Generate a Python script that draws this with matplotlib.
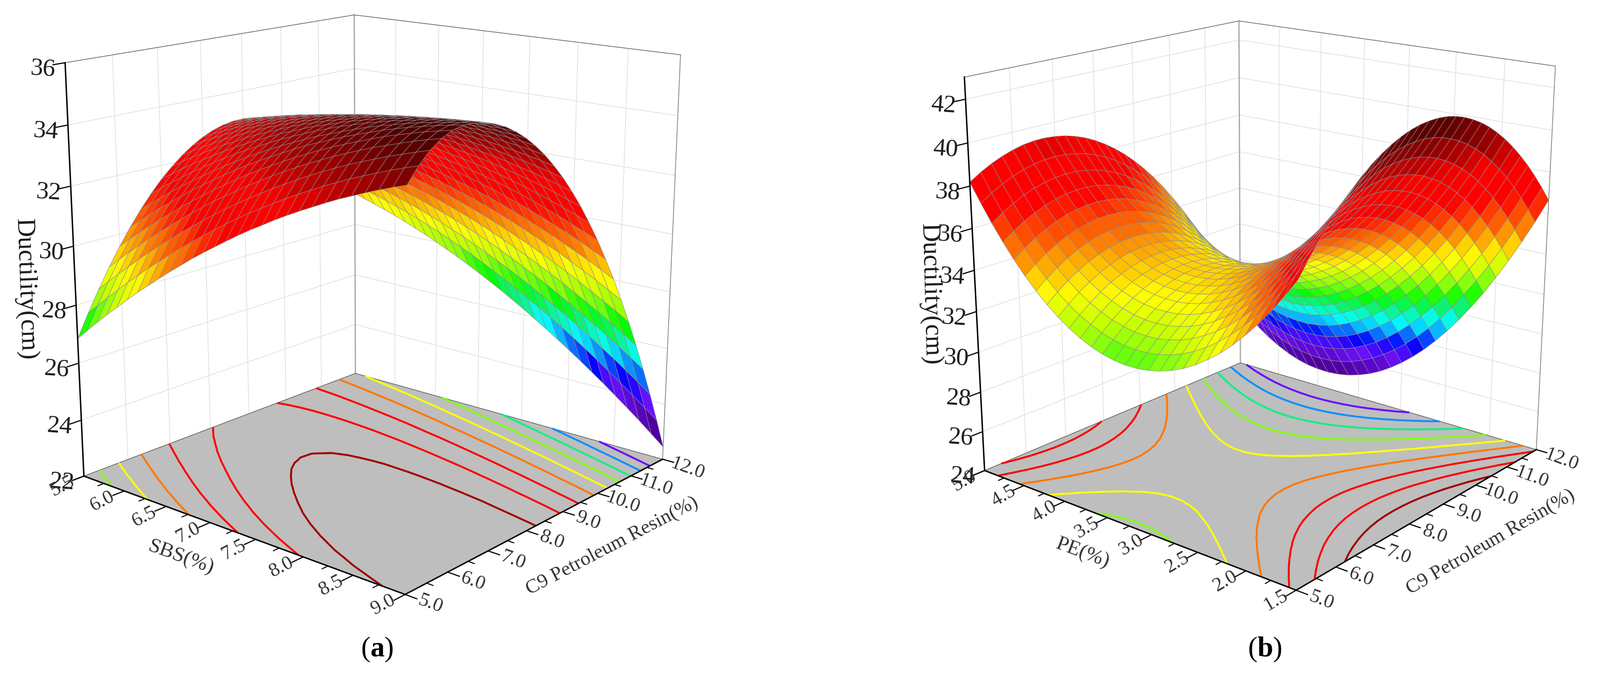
import numpy as np
import matplotlib
matplotlib.use('Agg')
import matplotlib.pyplot as plt
from matplotlib.colors import LinearSegmentedColormap
from mpl_toolkits.mplot3d import proj3d

W, H = 3929, 1665
plt.rcParams['font.family'] = ['Liberation Serif', 'DejaVu Sans']
plt.rcParams['mathtext.fontset'] = 'custom'
plt.rcParams['mathtext.rm'] = 'Liberation Serif'
plt.rcParams['mathtext.bf'] = 'Liberation Serif:bold'

c9 = np.arange(5, 12.01, .25)
sbs = np.arange(5.5, 9.01, .125)
pe = np.arange(1.5, 5.01, .125)

# ductility x100, one row per SBS value, one column per C9 value
ductility_a = [
    [2685, 2761, 2832, 2898, 2959, 3015, 3066, 3112, 3153, 3188, 3219, 3245, 3266, 3282, 3293, 3299, 3300, 3296, 3287, 3272, 3253, 3229, 3200, 3166, 3127, 3083, 3034, 2980, 2921],
    [2723, 2798, 2868, 2932, 2992, 3046, 3095, 3139, 3178, 3212, 3241, 3265, 3284, 3298, 3307, 3311, 3310, 3304, 3293, 3277, 3256, 3230, 3199, 3163, 3122, 3076, 3025, 2969, 2908],
    [2761, 2834, 2903, 2966, 3023, 3076, 3123, 3165, 3202, 3234, 3261, 3284, 3301, 3313, 3320, 3322, 3319, 3312, 3299, 3281, 3258, 3230, 3197, 3160, 3117, 3069, 3016, 2958, 2895],
    [2797, 2869, 2936, 2998, 3054, 3105, 3150, 3190, 3226, 3256, 3281, 3302, 3317, 3327, 3332, 3333, 3328, 3318, 3304, 3284, 3259, 3229, 3195, 3155, 3110, 3061, 3006, 2946, 2881],
    [2832, 2904, 2970, 3030, 3084, 3133, 3176, 3215, 3248, 3277, 3300, 3318, 3332, 3340, 3344, 3342, 3336, 3324, 3307, 3286, 3259, 3228, 3191, 3149, 3103, 3051, 2995, 2933, 2867],
    [2867, 2937, 3002, 3060, 3113, 3160, 3202, 3238, 3270, 3297, 3318, 3335, 3346, 3353, 3354, 3351, 3342, 3329, 3310, 3287, 3258, 3225, 3187, 3143, 3095, 3041, 2983, 2919, 2851],
    [2901, 2970, 3033, 3090, 3141, 3187, 3226, 3261, 3291, 3315, 3335, 3350, 3359, 3364, 3364, 3358, 3348, 3333, 3313, 3287, 3257, 3222, 3181, 3136, 3086, 3030, 2970, 2905, 2834],
    [2933, 3001, 3063, 3119, 3169, 3212, 3250, 3283, 3311, 3334, 3351, 3364, 3372, 3375, 3373, 3365, 3353, 3336, 3314, 3287, 3254, 3217, 3175, 3128, 3076, 3018, 2956, 2889, 2817],
    [2965, 3032, 3093, 3147, 3195, 3237, 3273, 3304, 3330, 3351, 3367, 3378, 3384, 3384, 3380, 3371, 3357, 3338, 3314, 3285, 3251, 3212, 3168, 3119, 3065, 3006, 2942, 2872, 2798],
    [2996, 3062, 3121, 3174, 3221, 3261, 3295, 3324, 3348, 3367, 3381, 3390, 3394, 3393, 3387, 3376, 3360, 3339, 3314, 3283, 3247, 3206, 3160, 3109, 3053, 2992, 2926, 2855, 2779],
    [3026, 3091, 3149, 3201, 3245, 3284, 3316, 3343, 3365, 3382, 3395, 3402, 3404, 3401, 3393, 3381, 3363, 3340, 3312, 3279, 3242, 3199, 3151, 3098, 3040, 2977, 2910, 2837, 2759],
    [3056, 3119, 3176, 3226, 3269, 3306, 3336, 3361, 3382, 3397, 3407, 3413, 3413, 3408, 3399, 3384, 3364, 3340, 3310, 3275, 3235, 3191, 3141, 3086, 3027, 2962, 2892, 2818, 2738],
    [3084, 3146, 3202, 3250, 3292, 3327, 3355, 3379, 3397, 3411, 3419, 3423, 3421, 3414, 3403, 3386, 3365, 3338, 3307, 3270, 3229, 3182, 3130, 3074, 3012, 2946, 2874, 2798, 2716],
    [3111, 3173, 3227, 3274, 3314, 3347, 3374, 3395, 3412, 3423, 3430, 3432, 3428, 3420, 3406, 3388, 3364, 3336, 3303, 3264, 3221, 3172, 3119, 3060, 2997, 2929, 2855, 2777, 2693],
    [3138, 3198, 3251, 3297, 3335, 3366, 3391, 3411, 3426, 3435, 3440, 3440, 3434, 3424, 3409, 3389, 3363, 3333, 3298, 3257, 3212, 3162, 3106, 3046, 2981, 2911, 2835, 2755, 2670],
    [3164, 3223, 3274, 3319, 3355, 3385, 3408, 3426, 3438, 3446, 3449, 3447, 3440, 3428, 3410, 3388, 3361, 3329, 3292, 3250, 3202, 3150, 3093, 3031, 2964, 2892, 2814, 2732, 2645],
    [3189, 3246, 3297, 3340, 3375, 3403, 3424, 3440, 3450, 3456, 3457, 3453, 3444, 3430, 3411, 3387, 3358, 3324, 3285, 3241, 3192, 3138, 3079, 3015, 2946, 2872, 2793, 2709, 2620],
    [3212, 3269, 3318, 3360, 3393, 3419, 3438, 3453, 3462, 3466, 3465, 3459, 3448, 3432, 3411, 3385, 3354, 3318, 3277, 3232, 3181, 3125, 3064, 2998, 2927, 2851, 2770, 2684, 2593],
    [3236, 3291, 3339, 3379, 3411, 3435, 3452, 3465, 3472, 3474, 3471, 3463, 3451, 3433, 3410, 3382, 3350, 3312, 3269, 3221, 3168, 3111, 3048, 2980, 2907, 2829, 2747, 2659, 2566],
    [3258, 3312, 3359, 3397, 3428, 3450, 3465, 3476, 3481, 3481, 3477, 3467, 3453, 3433, 3408, 3379, 3344, 3304, 3260, 3210, 3155, 3096, 3031, 2961, 2887, 2807, 2722, 2633, 2538],
    [3279, 3332, 3378, 3415, 3443, 3464, 3478, 3486, 3490, 3488, 3482, 3470, 3453, 3432, 3405, 3374, 3337, 3296, 3249, 3198, 3141, 3080, 3013, 2942, 2865, 2784, 2697, 2606, 2509],
    [3299, 3352, 3396, 3431, 3458, 3477, 3489, 3496, 3497, 3494, 3485, 3472, 3454, 3430, 3402, 3368, 3330, 3287, 3238, 3185, 3126, 3063, 2995, 2921, 2843, 2759, 2671, 2578, 2479],
    [3319, 3370, 3413, 3447, 3472, 3490, 3499, 3504, 3504, 3499, 3488, 3473, 3453, 3427, 3397, 3362, 3322, 3276, 3226, 3171, 3111, 3045, 2975, 2900, 2820, 2734, 2644, 2549, 2448],
    [3338, 3388, 3429, 3462, 3486, 3501, 3509, 3512, 3510, 3503, 3490, 3473, 3451, 3424, 3392, 3355, 3313, 3265, 3213, 3156, 3094, 3027, 2955, 2878, 2795, 2708, 2616, 2519, 2417],
    [3355, 3404, 3444, 3475, 3498, 3512, 3518, 3519, 3515, 3506, 3492, 3473, 3449, 3420, 3385, 3346, 3302, 3253, 3199, 3140, 3076, 3007, 2933, 2854, 2770, 2681, 2587, 2488, 2384],
    [3372, 3420, 3459, 3488, 3509, 3521, 3525, 3524, 3519, 3508, 3492, 3471, 3445, 3414, 3378, 3337, 3292, 3241, 3185, 3124, 3058, 2987, 2911, 2830, 2744, 2654, 2558, 2457, 2351],
    [3388, 3435, 3472, 3501, 3520, 3530, 3532, 3530, 3522, 3509, 3491, 3468, 3441, 3408, 3370, 3327, 3280, 3227, 3169, 3106, 3039, 2966, 2888, 2805, 2718, 2625, 2527, 2424, 2317],
    [3403, 3449, 3485, 3512, 3529, 3538, 3538, 3534, 3524, 3509, 3490, 3465, 3436, 3401, 3361, 3317, 3267, 3212, 3153, 3088, 3018, 2944, 2864, 2780, 2690, 2595, 2496, 2391, 2281],
    [3417, 3462, 3497, 3522, 3538, 3545, 3543, 3537, 3525, 3509, 3487, 3461, 3429, 3393, 3351, 3305, 3253, 3197, 3135, 3069, 2997, 2921, 2839, 2753, 2661, 2565, 2463, 2357, 2245],
]

# ductility x100, one row per PE value, one column per C9 value
ductility_b = [
    [3745, 3814, 3877, 3935, 3988, 4035, 4077, 4114, 4145, 4171, 4192, 4208, 4218, 4223, 4223, 4218, 4207, 4191, 4169, 4143, 4111, 4073, 4031, 3983, 3930, 3872, 3808, 3739, 3665],
    [3663, 3730, 3792, 3848, 3900, 3946, 3987, 4022, 4052, 4077, 4097, 4111, 4120, 4124, 4123, 4116, 4104, 4086, 4064, 4036, 4003, 3964, 3920, 3871, 3817, 3757, 3692, 3622, 3546],
    [3586, 3652, 3713, 3768, 3818, 3863, 3903, 3937, 3966, 3989, 4008, 4021, 4029, 4031, 4028, 4020, 4007, 3988, 3964, 3935, 3901, 3861, 3816, 3765, 3710, 3649, 3582, 3511, 3434],
    [3516, 3581, 3640, 3694, 3743, 3787, 3825, 3858, 3886, 3908, 3925, 3937, 3943, 3945, 3940, 3931, 3916, 3897, 3871, 3841, 3805, 3764, 3718, 3666, 3609, 3547, 3479, 3406, 3328],
    [3453, 3516, 3574, 3627, 3674, 3717, 3754, 3785, 3812, 3833, 3849, 3859, 3864, 3864, 3859, 3848, 3832, 3811, 3785, 3753, 3716, 3673, 3626, 3573, 3515, 3451, 3382, 3308, 3229],
    [3395, 3457, 3514, 3566, 3612, 3653, 3689, 3719, 3744, 3764, 3778, 3788, 3792, 3790, 3784, 3772, 3754, 3732, 3704, 3671, 3633, 3589, 3540, 3486, 3426, 3362, 3292, 3216, 3135],
    [3344, 3405, 3461, 3511, 3556, 3596, 3630, 3659, 3683, 3701, 3715, 3722, 3725, 3723, 3715, 3701, 3683, 3659, 3630, 3596, 3556, 3511, 3461, 3405, 3345, 3279, 3207, 3131, 3049],
    [3300, 3359, 3413, 3462, 3506, 3544, 3577, 3605, 3628, 3645, 3657, 3664, 3665, 3661, 3652, 3637, 3618, 3593, 3562, 3527, 3486, 3439, 3388, 3331, 3269, 3202, 3129, 3051, 2968],
    [3261, 3319, 3372, 3420, 3462, 3500, 3531, 3558, 3579, 3595, 3606, 3611, 3611, 3606, 3596, 3580, 3559, 3532, 3501, 3464, 3422, 3374, 3321, 3263, 3200, 3131, 3057, 2978, 2894],
    [3229, 3286, 3338, 3384, 3425, 3461, 3492, 3517, 3537, 3551, 3561, 3565, 3564, 3557, 3546, 3528, 3506, 3479, 3446, 3407, 3364, 3315, 3261, 3202, 3137, 3067, 2992, 2911, 2826],
    [3203, 3259, 3309, 3354, 3394, 3429, 3458, 3482, 3501, 3514, 3522, 3525, 3523, 3515, 3502, 3483, 3460, 3431, 3397, 3357, 3313, 3262, 3207, 3146, 3081, 3009, 2933, 2851, 2764],
    [3184, 3238, 3287, 3331, 3370, 3403, 3431, 3454, 3471, 3483, 3490, 3492, 3488, 3479, 3464, 3445, 3420, 3390, 3354, 3313, 3267, 3216, 3159, 3098, 3030, 2958, 2880, 2797, 2709],
    [3171, 3224, 3272, 3314, 3351, 3383, 3410, 3431, 3448, 3458, 3464, 3464, 3459, 3449, 3433, 3412, 3386, 3355, 3318, 3276, 3229, 3176, 3118, 3055, 2986, 2913, 2834, 2749, 2660],
    [3164, 3216, 3262, 3303, 3339, 3370, 3396, 3416, 3431, 3440, 3444, 3443, 3437, 3425, 3408, 3386, 3359, 3326, 3288, 3245, 3196, 3142, 3083, 3019, 2949, 2874, 2793, 2708, 2617],
    [3163, 3214, 3259, 3299, 3334, 3363, 3387, 3406, 3420, 3428, 3431, 3429, 3421, 3408, 3390, 3367, 3338, 3304, 3264, 3220, 3170, 3115, 3054, 2989, 2918, 2841, 2760, 2673, 2580],
    [3169, 3218, 3262, 3301, 3334, 3363, 3385, 3403, 3415, 3422, 3424, 3420, 3411, 3397, 3378, 3353, 3323, 3288, 3247, 3201, 3150, 3094, 3032, 2965, 2893, 2815, 2732, 2644, 2550],
    [3181, 3229, 3272, 3309, 3341, 3368, 3390, 3406, 3417, 3423, 3423, 3418, 3408, 3393, 3372, 3346, 3315, 3278, 3236, 3189, 3137, 3079, 3016, 2947, 2874, 2795, 2711, 2621, 2527],
    [3199, 3246, 3288, 3324, 3355, 3380, 3401, 3416, 3425, 3430, 3429, 3423, 3411, 3394, 3372, 3345, 3313, 3275, 3232, 3183, 3129, 3070, 3006, 2936, 2862, 2781, 2696, 2605, 2509],
    [3224, 3270, 3310, 3345, 3374, 3399, 3418, 3431, 3440, 3443, 3441, 3433, 3421, 3403, 3379, 3351, 3317, 3278, 3233, 3183, 3128, 3068, 3003, 2932, 2855, 2774, 2687, 2595, 2498],
    [3255, 3299, 3338, 3372, 3400, 3423, 3441, 3453, 3460, 3462, 3459, 3450, 3436, 3417, 3392, 3362, 3327, 3287, 3241, 3190, 3134, 3072, 3005, 2933, 2856, 2773, 2685, 2592, 2493],
    [3293, 3335, 3373, 3405, 3432, 3454, 3471, 3482, 3488, 3488, 3483, 3473, 3458, 3438, 3412, 3381, 3344, 3302, 3255, 3203, 3146, 3083, 3015, 2941, 2862, 2778, 2689, 2594, 2495],
    [3336, 3378, 3414, 3445, 3471, 3491, 3506, 3516, 3521, 3520, 3514, 3503, 3486, 3465, 3437, 3405, 3367, 3324, 3276, 3222, 3164, 3099, 3030, 2955, 2875, 2790, 2699, 2603, 2502],
    [3386, 3426, 3461, 3491, 3516, 3535, 3549, 3557, 3561, 3559, 3551, 3539, 3521, 3498, 3469, 3436, 3397, 3352, 3303, 3248, 3188, 3122, 3052, 2976, 2894, 2808, 2716, 2619, 2516],
    [3442, 3481, 3515, 3544, 3567, 3585, 3597, 3605, 3607, 3603, 3595, 3581, 3562, 3537, 3508, 3473, 3433, 3387, 3336, 3280, 3219, 3152, 3080, 3003, 2920, 2832, 2739, 2641, 2537],
    [3505, 3543, 3575, 3602, 3624, 3641, 3652, 3658, 3659, 3654, 3645, 3630, 3609, 3583, 3552, 3516, 3475, 3428, 3376, 3318, 3256, 3188, 3114, 3036, 2952, 2863, 2768, 2669, 2564],
    [3574, 3610, 3642, 3667, 3688, 3703, 3713, 3718, 3718, 3712, 3701, 3684, 3663, 3636, 3603, 3566, 3523, 3475, 3421, 3363, 3299, 3230, 3155, 3075, 2990, 2900, 2804, 2703, 2597],
    [3649, 3684, 3714, 3739, 3758, 3772, 3781, 3784, 3783, 3775, 3763, 3745, 3722, 3694, 3661, 3622, 3578, 3528, 3474, 3414, 3348, 3278, 3202, 3121, 3034, 2943, 2846, 2743, 2636],
    [3731, 3765, 3793, 3816, 3835, 3847, 3855, 3857, 3854, 3845, 3832, 3813, 3789, 3759, 3724, 3684, 3639, 3588, 3532, 3471, 3404, 3332, 3255, 3173, 3085, 2992, 2894, 2790, 2682],
    [3818, 3851, 3878, 3900, 3917, 3929, 3935, 3936, 3931, 3922, 3907, 3887, 3861, 3830, 3794, 3753, 3706, 3654, 3597, 3534, 3466, 3393, 3315, 3231, 3142, 3048, 2948, 2844, 2733],
]

levels_a = [24.24, 25.45, 26.66, 27.87, 29.08, 30.29, 31.5, 32.71, 33.92]
levels_b = [27.0, 28.67, 30.33, 32.0, 33.67, 35.33, 37.0, 38.67, 40.33]
level_colors = ['#6a10ff', '#0a90ff', '#10f080', '#80ff10', '#ffff00', '#ff7800', '#ff0000', '#ff0000', '#a00000']

c9_ticks = [5, 6, 7, 8, 9, 10, 11, 12]
c9_minor = [5.5, 6.5, 7.5, 8.5, 9.5, 10.5, 11.5]
sbs_ticks = [5.5, 6, 6.5, 7, 7.5, 8, 8.5, 9]
sbs_minor = [5.75, 6.25, 6.75, 7.25, 7.75, 8.25, 8.75]
pe_ticks = [5, 4.5, 4, 3.5, 3, 2.5, 2, 1.5]
pe_minor = [4.75, 4.25, 3.75, 3.25, 2.75, 2.25, 1.75]
z_ticks_a = [22, 24, 26, 28, 30, 32, 34, 36]
z_ticks_b = [24, 26, 28, 30, 32, 34, 36, 38, 40, 42]

stops = [(-1, '#5000a0'), (0, '#6a10ff'), (.5, '#0000ff'), (1, '#0a90ff'), (1.5, '#00ffff'), (2, '#10f080'), (2.5, '#00ff00'),
         (3, '#80ff10'), (3.5, '#c8ff00'), (4, '#ffff00'), (4.5, '#ffc000'), (5, '#ff7800'), (5.5, '#ff4000'), (6, '#ff0000'),
         (7, '#ff0000'), (8, '#a00000'), (9, '#500000')]
cmap = LinearSegmentedColormap.from_list('bands', [((a+1)/10, b) for a, b in stops], N=70)

fig = plt.figure(figsize=(W/100, H/100), dpi=100)


def draw_panel(xgrid, zgrid, xlim, zlim, levels, view, xticks, xminor, zticks, xname, xname_at, c9name_at, rot, off):
    ax = fig.add_axes([0, 0, .4, .9], projection='3d', computed_zorder=False)
    ax.set_axis_off()
    ax.patch.set_alpha(0)
    ax.view_init(elev=view['elev'], azim=view['azim'])
    ax.set_proj_type('persp', focal_length=view['f'])
    ax.set_box_aspect((1.0, view['by'], view['bz']))
    vl = ax.viewLim
    s = view['s']
    side = s*(vl.x1-vl.x0)
    ax.set_position([(view['tx']+vl.x0*s)/W, (view['ty']+vl.y0*s)/H, side/W, side/H])

    x0, x1 = xlim
    y0, y1 = 5.0, 12.0
    z0, z1 = zlim
    sg = 1 if x1 > x0 else -1
    zgrid = np.array(zgrid)/100
    X, Y = np.meshgrid(xgrid, c9, indexing='ij')

    # walls
    grid = dict(color='#dcdcdc', lw=1.1, zorder=1)
    for t in c9_ticks[1:-1]:
        ax.plot([x0, x0], [t, t], [z0, z1], **grid)
    for t in xticks[1:-1]:
        ax.plot([t, t], [y1, y1], [z0, z1], **grid)
    for t in zticks:
        ax.plot([x0, x0], [y0, y1], [t, t], **grid)
        ax.plot([x0, x1], [y1, y1], [t, t], **grid)
    ax.plot([x0, x0], [y1, y1], [z0, z1], color='#a8a8a8', lw=2.2, zorder=1)
    ax.plot([x1, x1], [y1, y1], [z0, z1], color='#808080', lw=1.3, zorder=1)
    ax.plot([x0, x0], [y0, y1], [z1, z1], color='#707070', lw=1.3, zorder=1)
    ax.plot([x0, x1], [y1, y1], [z1, z1], color='#707070', lw=1.3, zorder=1)

    # floor and contours
    ax.plot_surface(np.array([[x0, x0], [x1, x1]]), np.array([[y0, y1], [y0, y1]]), np.full((2, 2), z0),
                    color='#bebebe', shade=False, linewidth=0, zorder=2)
    ax.plot([x0, x0], [y0, y1], [z0, z0], color='#606060', lw=1.2, zorder=3)
    ax.plot([x0, x1], [y1, y1], [z0, z0], color='#606060', lw=1.2, zorder=3)
    ax.contour(X, Y, zgrid, levels=levels, colors=level_colors, linewidths=3.4, zdir='z', offset=z0, zorder=3)

    # surface, one colour a facet
    zm = (zgrid[:-1, :-1]+zgrid[1:, :-1]+zgrid[:-1, 1:]+zgrid[1:, 1:])/4
    fc = cmap(np.clip(((zm-levels[0])/(levels[1]-levels[0])+1)/10, 0, 1))
    fc = np.pad(fc, ((0, 1), (0, 1), (0, 0)), mode='edge')
    ax.plot_surface(X, Y, zgrid, facecolors=fc, rstride=1, cstride=1, shade=False, edgecolor='#8e8e8e', linewidth=.75, zorder=4)

    # axes
    k = dict(color='black', zorder=5)
    ax.plot([x0, x0], [y0, y0], [z0, z1], lw=2.5, **k)
    ax.plot([x0, x1], [y0, y0], [z0, z0], lw=2.5, **k)
    ax.plot([x1, x1], [y0, y1], [z0, z0], lw=2.5, **k)
    for t in zticks:
        ax.plot([x0, x0], [y0, y0-.25], [t, t], lw=2, **k)
    for t in xminor:
        ax.plot([t, t], [y0, y0-.13], [z0, z0], lw=1.8, **k)
    for t in xticks:
        ax.plot([t, t], [y0, y0-.25], [z0, z0], lw=2, **k)
    for t in c9_minor:
        ax.plot([x1, x1+sg*.06], [t, t], [z0, z0], lw=1.8, **k)
    for t in c9_ticks:
        ax.plot([x1, x1+sg*.11], [t, t], [z0, z0], lw=2, **k)

    ax.set_xlim(x0, x1, view_margin=0)
    ax.set_ylim(y0, y1, view_margin=0)
    ax.set_zlim(z0, z1, view_margin=0)

    # Text3D ignores rotation, so the labels go on the figure at the projected place
    M = ax.get_proj()

    def label(x, y, z, txt, dx, dy, size, angle, color='#333333'):
        u, v, _ = proj3d.proj_transform(x, y, z, M)
        fig.text((view['tx']+s*u+dx)/W, (view['ty']+s*v-dy)/H, txt, fontsize=size, rotation=angle,
                 ha='center', va='center', color=color, rotation_mode='anchor')

    for t in zticks:
        label(x0, y0, t, str(t), -54, 15, 44, -4, '#1a1a1a')
    for t in xticks:
        label(t, y0, z0, '%.1f' % t, off[0], off[1], 35, rot[0])
    for t in c9_ticks:
        label(x1, t, z0, '%.1f' % t, off[2], off[3], 35, rot[1])
    fig.text(xname_at[0]/W, 1-xname_at[1]/H, xname, fontsize=37, rotation=rot[1], ha='center', va='center', color='#333333', rotation_mode='anchor')
    fig.text(c9name_at[0]/W, 1-c9name_at[1]/H, 'C9 Petroleum Resin(%)', fontsize=35.5, rotation=rot[0], ha='center', va='center', color='#333333', rotation_mode='anchor')


view_a = dict(elev=15.81, azim=-49.63, f=.489, by=.994, bz=1.0, s=9450.43, tx=924.74, ty=1002.76)
view_b = dict(elev=17.71, azim=-50.51, f=.488, by=.995, bz=1.002, s=9057.43, tx=3104.45, ty=995.45)

draw_panel(sbs, ductility_a, (5.5, 9.0), (22, 36), levels_a, view_a, sbs_ticks, sbs_minor, z_ticks_a, 'SBS(%)', (445, 1368), (1503, 1340), (27.7, -20), (-54, 24, 62, 22))
draw_panel(pe, ductility_b, (5.0, 1.5), (24, 43), levels_b, view_b, pe_ticks, pe_minor, z_ticks_b, 'PE(%)', (2659, 1357), (3660, 1330), (30.2, -20.5), (-50, 24, 62, 24))

fig.text(62/W, 1-710/H, 'Ductility(cm)', fontsize=46, rotation=-88, ha='center', va='center', color='#1a1a1a')
fig.text(2284/W, 1-722/H, 'Ductility(cm)', fontsize=46, rotation=-88.5, ha='center', va='center', color='#1a1a1a')
fig.text(926/W, 1-1594/H, r'($\mathbf{a}$)', fontsize=50, ha='center', va='center')
fig.text(3106/W, 1-1594/H, r'($\mathbf{b}$)', fontsize=50, ha='center', va='center')
fig.savefig('out.png', dpi=100)
